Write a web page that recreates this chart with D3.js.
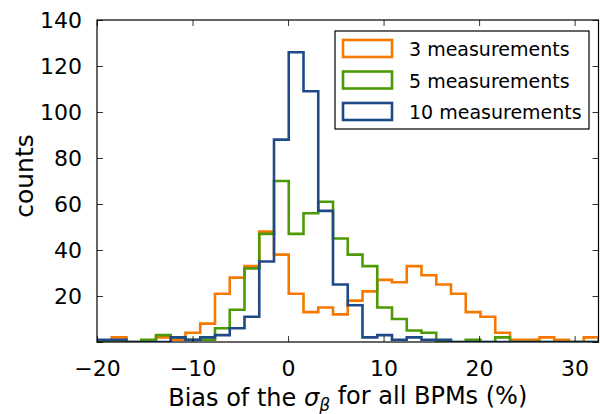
<!DOCTYPE html>
<html>
<head>
<meta charset="utf-8">
<script src="https://cdn.jsdelivr.net/npm/d3@7"></script>
<style>
  body { margin: 0; background: #fff; }
  text { font-family: "DejaVu Sans", sans-serif; fill: #000; }
</style>
</head>
<body>
<div id="chart"></div>
<script>
/* CONSTANTS AND GLOBALS */
const width = 600,
  height = 414,
  margin = { top: 20, bottom: 72, left: 97, right: 1.5 };

// histogram bins span the x range, 34 equal bins
const binLo = -20,
  binHi = 32.5;

/* DATA */
const seriesNames = ["3 measurements", "5 measurements", "10 measurements"];
const seriesColors = ["#f57900", "#4e9a06", "#204a87"];

const counts3 = [0, 2, 0, 0, 2, 1, 4, 8, 21, 28, 33, 48, 38, 21, 13, 15, 12,
  18, 22, 27, 26, 33, 29, 25, 21, 13, 11, 4, 1, 1, 2, 1, 0, 2];
const counts5 = [0, 0, 0, 1, 3, 2, 1, 1, 6, 14, 32, 47, 70, 47, 56, 61, 45,
  38, 33, 15, 10, 5, 4, 0, 0, 1, 0, 2, 0, 0, 0, 0, 0, 0];
const counts10 = [1, 1, 0, 0, 0, 2, 1, 2, 3, 6, 11, 35, 88, 126, 109, 57, 25,
  16, 2, 3, 1, 2, 1, 1, 0, 0, 0, 0, 0, 0, 0, 0, 0, 0];

const xTicks = [-20, -10, 0, 10, 20, 30];
const yTicks = [0, 20, 40, 60, 80, 100, 120, 140];

const allCounts = [counts3, counts5, counts10];

/* SCALES */
const xScale = d3.scaleLinear()
  .domain([binLo, binHi])
  .range([margin.left, width - margin.right]);

const yScale = d3.scaleLinear()
  .domain([0, 140])
  .range([height - margin.bottom, margin.top]);

const svg = d3.select("#chart")
  .append("svg")
  .attr("width", width)
  .attr("height", height);

// step outline of a histogram, like histtype="step"
const binW = (binHi - binLo) / counts3.length;
function stepPoints(counts) {
  const pts = [[binLo, 0]];
  counts.forEach((c, i) => {
    pts.push([binLo + i * binW, c]);
    pts.push([binLo + (i + 1) * binW, c]);
  });
  pts.push([binHi, 0]);
  return pts;
}

const line = d3.line()
  .x(d => xScale(d[0]))
  .y(d => yScale(d[1]));

svg.append("clipPath")
  .attr("id", "clip")
  .append("rect")
  .attr("x", margin.left)
  .attr("y", margin.top - 2)
  .attr("width", width - margin.left - margin.right)
  .attr("height", height - margin.top - margin.bottom + 2);

svg.append("g")
  .attr("clip-path", "url(#clip)")
  .selectAll("path")
  .data(allCounts)
  .join("path")
  .attr("d", d => line(stepPoints(d)))
  .attr("fill", "none")
  .attr("stroke", (d, i) => seriesColors[i])
  .attr("stroke-width", 2.6)
  .attr("stroke-linejoin", "miter");

/* AXES */ // ticks point inward on all four sides
const tickLen = 6;

const xAxis = d3.axisBottom(xScale).tickValues(xTicks).tickSize(-tickLen).tickPadding(18);
const yAxis = d3.axisLeft(yScale).tickValues(yTicks).tickSize(-tickLen).tickPadding(15)
  .tickFormat(d => d === 0 ? "" : d);

svg.append("g")
  .attr("transform", `translate(0,${height - margin.bottom})`)
  .call(xAxis)
  .call(g => g.select(".domain").remove())
  .selectAll("text")
  .style("font-size", "22px");

svg.append("g")
  .attr("transform", `translate(${margin.left},0)`)
  .call(yAxis)
  .call(g => g.select(".domain").remove())
  .selectAll("text")
  .style("font-size", "22px");

svg.append("g")
  .attr("transform", `translate(0,${margin.top})`)
  .call(d3.axisTop(xScale).tickValues(xTicks).tickSize(-tickLen).tickFormat(""))
  .call(g => g.select(".domain").remove());

svg.append("g")
  .attr("transform", `translate(${width - margin.right},0)`)
  .call(d3.axisRight(yScale).tickValues(yTicks).tickSize(-tickLen).tickFormat(""))
  .call(g => g.select(".domain").remove());

svg.selectAll(".tick line").attr("stroke", "#000").attr("stroke-width", 0.8);

// frame
svg.append("rect")
  .attr("x", margin.left)
  .attr("y", margin.top)
  .attr("width", width - margin.left - margin.right)
  .attr("height", height - margin.top - margin.bottom)
  .attr("fill", "none")
  .attr("stroke", "#000")
  .attr("stroke-width", 1.2);

/* LABELS */
const xlab = svg.append("text")
  .attr("x", (margin.left + width - margin.right) / 2)
  .attr("y", 406)
  .attr("text-anchor", "middle")
  .style("font-size", "24px");
xlab.append("tspan").text("Bias of the ");
xlab.append("tspan").style("font-style", "italic").text("σ");
xlab.append("tspan").style("font-style", "italic").style("font-size", "17px").attr("dy", "0.3em").text("β");
xlab.append("tspan").attr("dy", "-0.3em").text(" for all BPMs (%)");

svg.append("text")
  .attr("transform", "translate(33,176) rotate(-90)")
  .attr("text-anchor", "middle")
  .style("font-size", "25px")
  .text("counts");

/* LEGEND */
const legend = svg.append("g");

legend.append("rect")
  .attr("x", 335)
  .attr("y", 31)
  .attr("width", 254)
  .attr("height", 98)
  .attr("fill", "#fff")
  .attr("stroke", "#000")
  .attr("stroke-width", 1.2);

const items = legend.selectAll("g.item")
  .data(seriesNames)
  .join("g")
  .attr("class", "item")
  .attr("transform", (d, i) => `translate(0,${48.5 + i * 31.5})`);

items.append("rect")
  .attr("x", 343)
  .attr("y", -8.5)
  .attr("width", 49)
  .attr("height", 17)
  .attr("fill", "none")
  .attr("stroke", (d, i) => seriesColors[i])
  .attr("stroke-width", 2.6);

items.append("text")
  .attr("x", 409)
  .attr("y", 7.5)
  .style("font-size", "19px")
  .text(d => d);
</script>
</body>
</html>
